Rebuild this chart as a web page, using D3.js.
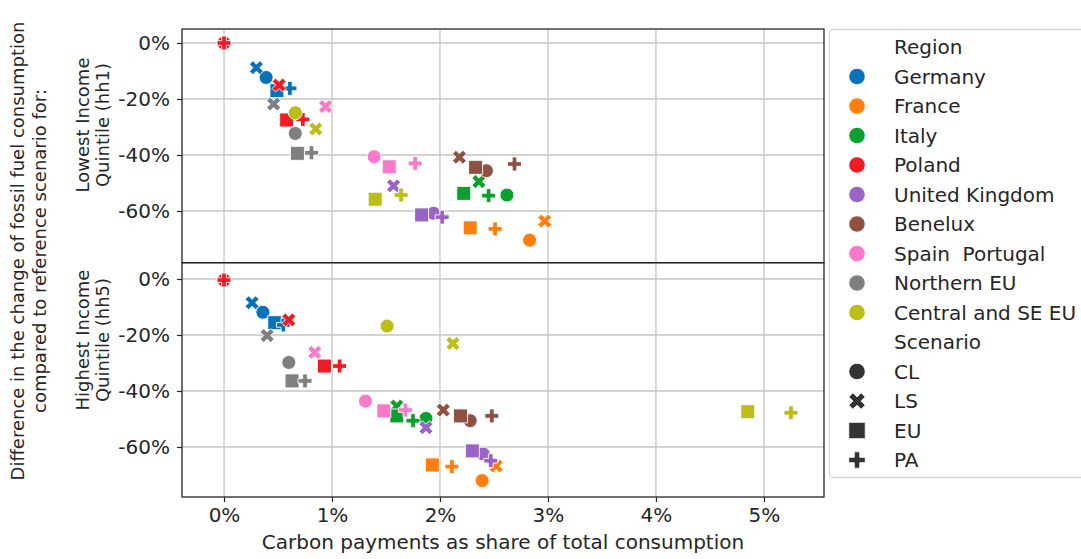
<!DOCTYPE html>
<html><head><meta charset="utf-8">
<script src="https://cdn.jsdelivr.net/npm/d3@7"></script>
<style>
html,body{margin:0;padding:0;background:#fff;}
svg{display:block;font-family:"DejaVu Sans",sans-serif;}
text{white-space:pre;}
</style></head>
<body>
<svg id="chart" width="1081" height="559"></svg>
<script>
// ---------- data ----------
const regions = ["Germany","France","Italy","Poland","United Kingdom","Benelux","Spain  Portugal","Northern EU","Central and SE EU"];
const regionColors = ["#0a72b8","#ff7f0e","#0ca02c","#ee1c25","#9a63c8","#8f5242","#f979cb","#7f7f7f","#bcbd16"];
const scenarios = ["CL","LS","EU","PA"];
const xTicks = [0,1,2,3,4,5];
const yTicks = [0,-20,-40,-60];

// carbon payments share (%) per region, order CL, LS, EU, PA -- lowest income (hh1)
const hh1Share = [
  [0.39, 0.30, 0.49, 0.61],
  [2.83, 2.97, 2.28, 2.51],
  [2.62, 2.36, 2.22, 2.45],
  [0.00, 0.51, 0.58, 0.73],
  [1.94, 1.57, 1.83, 2.02],
  [2.43, 2.18, 2.33, 2.69],
  [1.39, 0.94, 1.53, 1.77],
  [0.66, 0.46, 0.68, 0.81],
  [0.66, 0.85, 1.40, 1.64]
];
// change of fossil fuel consumption (%) -- hh1
const hh1Change = [
  [-12.3, -8.8, -17.0, -16.2],
  [-70.4, -63.6, -66.0, -66.4],
  [-54.3, -49.5, -53.7, -54.5],
  [0.0, -15.0, -27.5, -27.3],
  [-60.8, -51.0, -61.4, -62.2],
  [-45.6, -40.8, -44.4, -43.2],
  [-40.6, -22.7, -44.2, -43.0],
  [-32.3, -21.8, -39.4, -39.2],
  [-24.9, -30.7, -55.8, -54.3]
];
// highest income (hh5)
const hh5Share = [
  [0.36, 0.26, 0.47, 0.55],
  [2.39, 2.52, 1.93, 2.11],
  [1.87, 1.60, 1.60, 1.75],
  [0.00, 0.60, 0.93, 1.07],
  [2.40, 1.87, 2.30, 2.47],
  [2.28, 2.03, 2.19, 2.48],
  [1.31, 0.84, 1.48, 1.68],
  [0.60, 0.40, 0.63, 0.75],
  [1.51, 2.12, 4.85, 5.25]
];
const hh5Change = [
  [-11.9, -8.5, -15.6, -16.4],
  [-72.0, -66.8, -66.4, -67.0],
  [-49.8, -45.4, -48.9, -50.6],
  [-0.4, -14.6, -31.1, -31.1],
  [-62.5, -53.1, -61.4, -64.9],
  [-50.6, -46.8, -48.9, -48.9],
  [-43.6, -26.2, -47.1, -46.8],
  [-29.8, -20.2, -36.4, -36.4],
  [-16.8, -23.0, -47.4, -47.8]
];
// overlapping points drawn at the origin (Poland)
const overlapRegion = ["Poland"];
const overlapScenario = ["PA"];
const overlapShare = [0];
const overlapChange1 = [0];
const overlapChange5 = [-0.4];

// ---------- layout ----------
const svg = d3.select("#chart");
const FONT = 20, LFONT = 18;
const left = 182, right = 824;
const x = d3.scaleLinear().domain([-0.389, 5.556]).range([left, right]);
const panels = [
  {top:29, bottom:262.7, y:d3.scaleLinear().domain([-78.46, 5]).range([262.7, 29]),
   share:hh1Share, change:hh1Change, oChange:overlapChange1,
   label:["Lowest Income","Quintile (hh1)"], labelY:125, showX:false},
  {top:262.7, bottom:497, y:d3.scaleLinear().domain([-77.86, 5.82]).range([497, 262.7]),
   share:hh5Share, change:hh5Change, oChange:overlapChange5,
   label:["Highest Income","Quintile (hh5)"], labelY:340, showX:true}
];

// marker paths (unit size 1, centered)
const plusPts = [[-1,-3],[-1,-1],[-3,-1],[-3,1],[-1,1],[-1,3],[1,3],[1,1],[3,1],[3,-1],[1,-1],[1,-3]].map(p=>[p[0]/6,p[1]/6]);
const xPts = [[0.25,0],[0.5,0.25],[0.75,0],[1,0.25],[0.75,0.5],[1,0.75],[0.75,1],[0.5,0.75],[0.25,1],[0,0.75],[0.25,0.5],[0,0.25]].map(p=>[p[0]-0.5,p[1]-0.5]);
function markerPath(sc, s){
  if(sc==="CL"){ const r=s/2; return `M${r},0A${r},${r} 0 1,1 ${-r},0A${r},${r} 0 1,1 ${r},0Z`; }
  if(sc==="EU"){ const h=s/2; return `M${-h},${-h}H${h}V${h}H${-h}Z`; }
  const pts = sc==="PA" ? plusPts : xPts;
  return "M" + pts.map(p=>`${p[0]*s},${p[1]*s}`).join("L") + "Z";
}
const MS = 14;

panels.forEach(p=>{
  const g = svg.append("g");
  // grid
  g.append("g").selectAll("line.vx").data(xTicks).join("line")
    .attr("x1",d=>x(d)).attr("x2",d=>x(d)).attr("y1",p.top).attr("y2",p.bottom)
    .attr("stroke","#c4c4c4").attr("stroke-width",1.3);
  g.append("g").selectAll("line.hy").data(yTicks).join("line")
    .attr("x1",left).attr("x2",right).attr("y1",d=>p.y(d)).attr("y2",d=>p.y(d))
    .attr("stroke","#c4c4c4").attr("stroke-width",1.3);

  // y axis
  const ya = g.append("g").attr("transform",`translate(${left},0)`)
    .call(d3.axisLeft(p.y).tickValues(yTicks).tickSize(5).tickPadding(7)
      .tickFormat(d=>d+"%"));
  ya.select(".domain").remove();
  ya.selectAll("text").attr("font-size",FONT).attr("font-family","DejaVu Sans").attr("fill","#262626");
  ya.selectAll("line").attr("stroke","#262626").attr("stroke-width",1.2);

  if(p.showX){
    const xa = g.append("g").attr("transform",`translate(0,${p.bottom})`)
      .call(d3.axisBottom(x).tickValues(xTicks).tickSize(5).tickPadding(6).tickFormat(d=>d+"%"));
    xa.select(".domain").remove();
    xa.selectAll("text").attr("font-size",FONT).attr("font-family","DejaVu Sans").attr("fill","#262626");
    xa.selectAll("line").attr("stroke","#262626").attr("stroke-width",1.2);
  }

  // points
  const pts = [];
  regions.forEach((r,ri)=>{
    scenarios.forEach((s,si)=>{
      pts.push({r:ri, s, cx:p.share[ri][si], cy:p.change[ri][si]});
    });
    overlapRegion.forEach((orr,oi)=>{
      if(orr===r) pts.push({r:ri, s:overlapScenario[oi], cx:overlapShare[oi], cy:p.oChange[oi]});
    });
  });
  g.append("g").selectAll("path").data(pts).join("path")
    .attr("d",d=>markerPath(d.s, MS))
    .attr("transform",d=>`translate(${x(d.cx)},${p.y(d.cy)})`)
    .attr("fill",d=>regionColors[d.r]).attr("stroke","#fff").attr("stroke-width",0.9);

  // frame
  g.append("rect").attr("x",left).attr("y",p.top).attr("width",right-left).attr("height",p.bottom-p.top)
    .attr("fill","none").attr("stroke","#262626").attr("stroke-width",1.3);

  // panel label
  const lt = g.append("text").attr("transform",`translate(0,${p.labelY}) rotate(-90)`)
    .attr("text-anchor","middle").attr("font-size",LFONT).attr("fill","#262626");
  lt.append("tspan").attr("x",0).attr("y",89).text(p.label[0]);
  lt.append("tspan").attr("x",0).attr("y",109).text(p.label[1]);
});

// main y label
const ml = svg.append("text").attr("transform","translate(0,251) rotate(-90)")
  .attr("text-anchor","middle").attr("font-size",LFONT).attr("fill","#262626");
ml.append("tspan").attr("x",0).attr("y",24).text("Difference in the change of fossil fuel consumption");
ml.append("tspan").attr("x",0).attr("y",46).text("compared to reference scenario for:");

// x label
svg.append("text").attr("x",(left+right)/2).attr("y",549).attr("text-anchor","middle")
  .attr("font-size",FONT).attr("fill","#262626").text("Carbon payments as share of total consumption");

// legend
const lg = svg.append("g");
lg.append("rect").attr("x",829.5).attr("y",29.5).attr("width",270).attr("height",448)
  .attr("rx",4).attr("fill","#fff").attr("stroke","#d4d4d4").attr("stroke-width",1.3);
const entries = [{t:"Region"}]
  .concat(regions.map((r,i)=>({t:r, c:regionColors[i], m:"CL"})))
  .concat([{t:"Scenario"}])
  .concat(scenarios.map(s=>({t:s, c:"#333333", m:s})));
const ly = d3.scaleLinear().domain([0, entries.length-1]).range([47, 460]);
entries.forEach((e,i)=>{
  if(e.m) lg.append("path").attr("d",markerPath(e.m,16.5))
    .attr("transform",`translate(857,${ly(i)})`).attr("fill",e.c).attr("stroke","#fff").attr("stroke-width",0.9);
  lg.append("text").attr("x",894).attr("y",ly(i)).attr("dy","0.36em")
    .attr("font-size",FONT).attr("fill","#262626").text(e.t);
});
</script>
</body></html>
